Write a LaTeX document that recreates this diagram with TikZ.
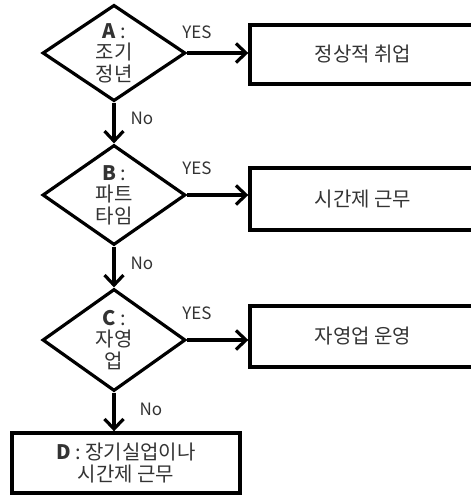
\documentclass[tikz,border=0pt]{standalone}
\usepackage{fontspec}
\setmainfont{Noto Sans CJK KR}
\usetikzlibrary{shapes.geometric,arrows.meta}

\begin{document}
\begin{tikzpicture}[x=1pt,y=-1pt,
    every node/.style={text=black!80,font=\fontsize{20}{21.5}\selectfont},
    decision/.style={draw=black,line width=3.2pt,diamond,inner sep=0pt,
      minimum width=143pt,align=center},
    outcome/.style={draw=black,line width=3.4pt,rectangle,inner sep=0pt,
      minimum width=226pt,align=center},
    flow/.style={line width=4.4pt,-{Straight Barb[length=10pt,width=19pt,line width=3.2pt]}},
    yeslabel/.style={font=\fontsize{17}{18}\selectfont},
    nolabel/.style={font=\fontsize{17}{18}\selectfont}]
  \clip (0,0) rectangle (471,496);
  \node[decision,minimum height=92pt] (A) at (114,53) {\textbf{A} :\\조기\\정년};
  \node[decision,minimum height=100pt] (B) at (114,195) {\textbf{B} :\\파트\\타임};
  \node[decision,minimum height=102pt] (C) at (114,340) {\textbf{C} :\\자영\\업};
  \node[outcome,minimum height=59pt] (R1) at (363,54.5) {정상적 취업};
  \node[outcome,minimum height=62pt] (R2) at (363,199) {시간제 근무};
  \node[outcome,minimum height=61pt] (R3) at (363,336.5) {자영업 운영};
  \node[outcome,minimum width=228pt,minimum height=60pt] (D) at (126,463)
    {\textbf{D} : 장기실업이나\\시간제 근무};
  \draw[flow] (A.east) -- (A.east -| R1.west);
  \draw[flow] (B.east) -- (B.east -| R2.west);
  \draw[flow] (C.east) -- (C.east -| R3.west);
  \draw[flow] (A.south) -- (B.north);
  \draw[flow] (B.south) -- (C.north);
  \draw[flow] (C.south) -- (C.south |- D.north);
  \node[yeslabel] (yesA) at (197,32) {YES};
  \node[yeslabel] (yesB) at (197,168) {YES};
  \node[yeslabel] (yesC) at (197,313) {YES};
  \node[nolabel] (noA) at (142,118) {No};
  \node[nolabel] (noB) at (142,263) {No};
  \node[nolabel] (noC) at (151,409) {No};
\end{tikzpicture}
\end{document}
